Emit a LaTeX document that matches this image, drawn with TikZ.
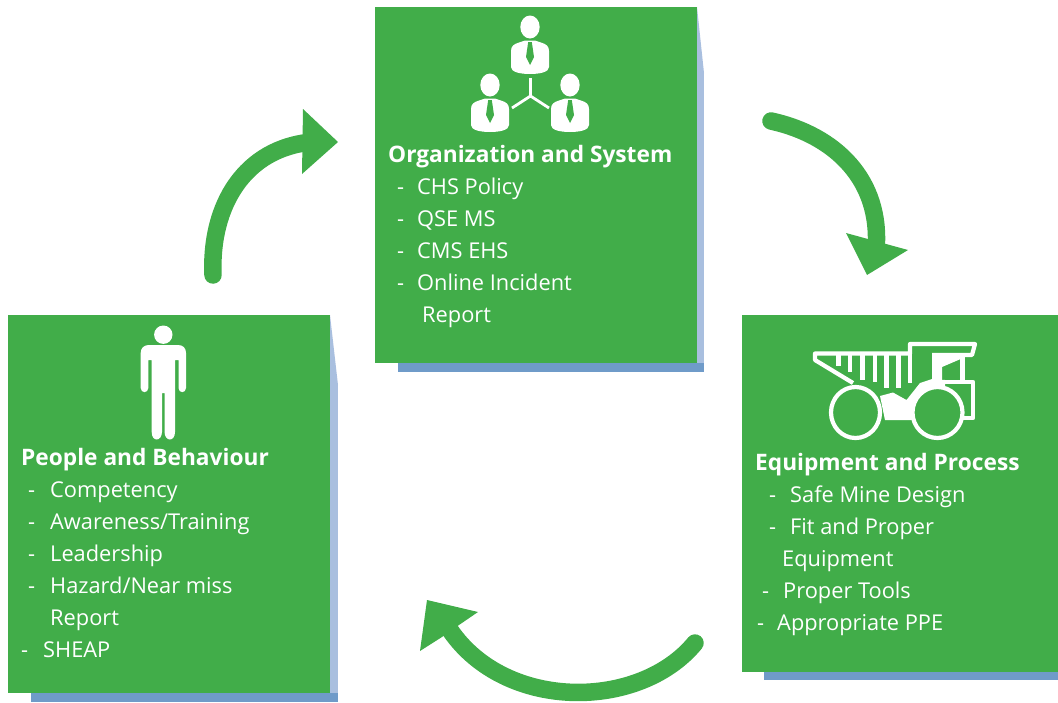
\documentclass[tikz,border=0pt]{standalone}
\usepackage{fontspec}
\setmainfont{Open Sans}
\definecolor{grn}{HTML}{41AD49}
\definecolor{shade}{HTML}{6F9BC9}
\definecolor{sidec}{HTML}{A9BFDF}
\tikzset{
  box/.style={fill=grn,draw=none,inner sep=0pt,outer sep=0pt,anchor=north west},
  shadowbar/.style={fill=shade,draw=none},
  sidebar/.style={fill=sidec,draw=none},
  ttl/.style={anchor=base west,inner sep=0pt,text=white,font=\fontsize{22.7}{24}\selectfont\bfseries},
  txt/.style={anchor=base west,inner sep=0pt,text=white,font=\fontsize{21.8}{24}\selectfont},
  shaft/.style={draw=grn,line width=17.5pt,line cap=round},
  head/.style={fill=grn,draw=none},
  ico/.style={fill=white,draw=none},
  icol/.style={draw=white,line width=4.2pt,line join=round},
  personicon/.pic={
    \fill[white] (0,-11) ellipse [x radius=9.7,y radius=11.5];
    \fill[white] (-19,29) -- (-19,13) .. controls (-19,8) and (-16,6) .. (-11,4.5) -- (-5,2.5) -- (5,2.5) -- (11,4.5) .. controls (16,6) and (19,8) .. (19,13) -- (19,29) .. controls (19,34) and (10,36) .. (0,36) .. controls (-10,36) and (-19,34) .. (-19,29) -- cycle;
    \fill[grn] (-1.8,4) -- (1.8,4) -- (4,19) -- (0,27) -- (-4,19) -- cycle;
  }
}
\begin{document}
\begin{tikzpicture}[x=1pt,y=-1pt]
\useasboundingbox (0,0) rectangle (1058,702);
% shadows
\fill[shadowbar] (398,363) rectangle (704,372);
\fill[sidebar] (697,73) rectangle (704,363);
\fill[sidebar] (697,7) -- (704,73) -- (697,73) -- cycle;
\fill[shadowbar] (31,693) rectangle (338,702);
\fill[sidebar] (330,385) rectangle (338,693);
\fill[sidebar] (330,315) -- (338,385) -- (330,385) -- cycle;
\fill[shadowbar] (764,672) rectangle (1058,680);
% boxes
\node[box,minimum width=322pt,minimum height=356pt] (org) at (375,7) {};
\node[box,minimum width=322pt,minimum height=378pt] (ppl) at (8,315) {};
\node[box,minimum width=316pt,minimum height=357pt] (eqp) at (742,315) {};
% org icon
\pic at (530,38) {personicon};
\pic at (490,96) {personicon};
\pic at (570,96) {personicon};
\draw[white,line width=2.8pt] (530.5,78) -- (530.5,96) (512,108) -- (530.5,96) -- (549,108);
% person icon
\fill[ico] (163.3,334.7) circle (9.2);
\fill[ico] (149,345) -- (178,345) .. controls (183,345) and (186,348) .. (186,353) -- (186,388) .. controls (186,393.5) and (178.5,393.5) .. (178.5,388) -- (178.5,360) -- (175,360) -- (175,432) .. controls (175,442) and (165,442) .. (164.5,432) -- (164.5,393) -- (162,393) -- (162,432) .. controls (161.5,442) and (151.7,442) .. (151.7,432) -- (151.7,360) -- (148.3,360) -- (148.3,388) .. controls (148.3,393.5) and (140.7,393.5) .. (140.7,388) -- (140.7,353) .. controls (140.7,348) and (144,345) .. (149,345) -- cycle;
% truck icon
\fill[ico] (880,396) -- (893,392.5) -- (906.5,400) -- (920,383) -- (932,379) -- (945,380) -- (945,420) -- (912,420) -- (885,420) -- cycle;
\fill[ico] (932,354) -- (963,354) -- (963,358) -- (942,367) -- (942,382) -- (932,382) -- cycle;
\draw[icol] (853,383) -- (815,360) -- (815,353.5) -- (910,353.5) -- (910,344) -- (975,344) -- (972,355) -- (932,355);
\draw[icol] (838.5,353.5) -- (838.5,366) (850,353.5) -- (850,372) (862.5,353.5) -- (862.5,380) (875,353.5) -- (875,382) (886.5,353.5) -- (886.5,388) (898.5,353.5) -- (898.5,388) (910,353.5) -- (910,383);
\draw[icol] (962.5,355) -- (962.5,382);
\draw[icol] (940,382) -- (973,382) -- (973,418) -- (962,418);
\draw[icol,fill=grn] (855.5,412.5) ellipse [x radius=24.5,y radius=25.5];
\draw[icol,fill=grn] (937.5,412.5) ellipse [x radius=25,y radius=25.5];
% named arrow ends
\coordinate (t1) at (213,275);
\coordinate (e1) at (312,142);
\coordinate (t2) at (771,121);
\coordinate (e2) at (876,250);
\coordinate (t3) at (695,643);
\coordinate (e3) at (450,630);
% arrows
\draw[shaft] (t1) .. controls (210,205) and (245,148) .. (e1);
\fill[head] (338,142) -- (303,109) -- (302,174) -- cycle;
\draw[shaft] (t2) .. controls (835,135) and (882,180) .. (e2);
\fill[head] (867,275) -- (846,233) -- (908,250) -- cycle;
\draw[shaft] (t3) .. controls (640,710) and (506,712) .. (e3);
\fill[head] (427,600) -- (478,612) -- (459,625) -- (442,637) -- (420,651) -- cycle;
% org text
\node[ttl] (o0) at (388,162) {Organization and System};
\node[txt] (o1d) at (397,194) {-}; \node[txt] (o1) at (417,194) {CHS Policy};
\node[txt] (o2d) at (397,226) {-}; \node[txt] (o2) at (417,226) {QSE MS};
\node[txt] (o3d) at (397,258) {-}; \node[txt] (o3) at (417,258) {CMS EHS};
\node[txt] (o4d) at (397,290) {-}; \node[txt] (o4) at (417,290) {Online Incident};
\node[txt] (o5) at (422,322) {Report};
% people text
\node[ttl] (p0) at (21,465) {People and Behaviour};
\node[txt] (p1d) at (28,497) {-}; \node[txt] (p1) at (50,497) {Competency};
\node[txt] (p2d) at (28,529) {-}; \node[txt] (p2) at (50,529) {Awareness/Training};
\node[txt] (p3d) at (28,561) {-}; \node[txt] (p3) at (50,561) {Leadership};
\node[txt] (p4d) at (28,593) {-}; \node[txt] (p4) at (50,593) {Hazard/Near miss};
\node[txt] (p5) at (50,625) {Report};
\node[txt] (p6d) at (21,657) {-}; \node[txt] (p6) at (43,657) {SHEAP};
% equipment text
\node[ttl] (q0) at (755,470) {Equipment and Process};
\node[txt] (q1d) at (769,502) {-}; \node[txt] (q1) at (790,502) {Safe Mine Design};
\node[txt] (q2d) at (769,534) {-}; \node[txt] (q2) at (790,534) {Fit and Proper};
\node[txt] (q3) at (782,566) {Equipment};
\node[txt] (q4d) at (762,598) {-}; \node[txt] (q4) at (783,598) {Proper Tools};
\node[txt] (q5d) at (757,630) {-}; \node[txt] (q5) at (777,630) {Appropriate PPE};
\end{tikzpicture}
\end{document}
